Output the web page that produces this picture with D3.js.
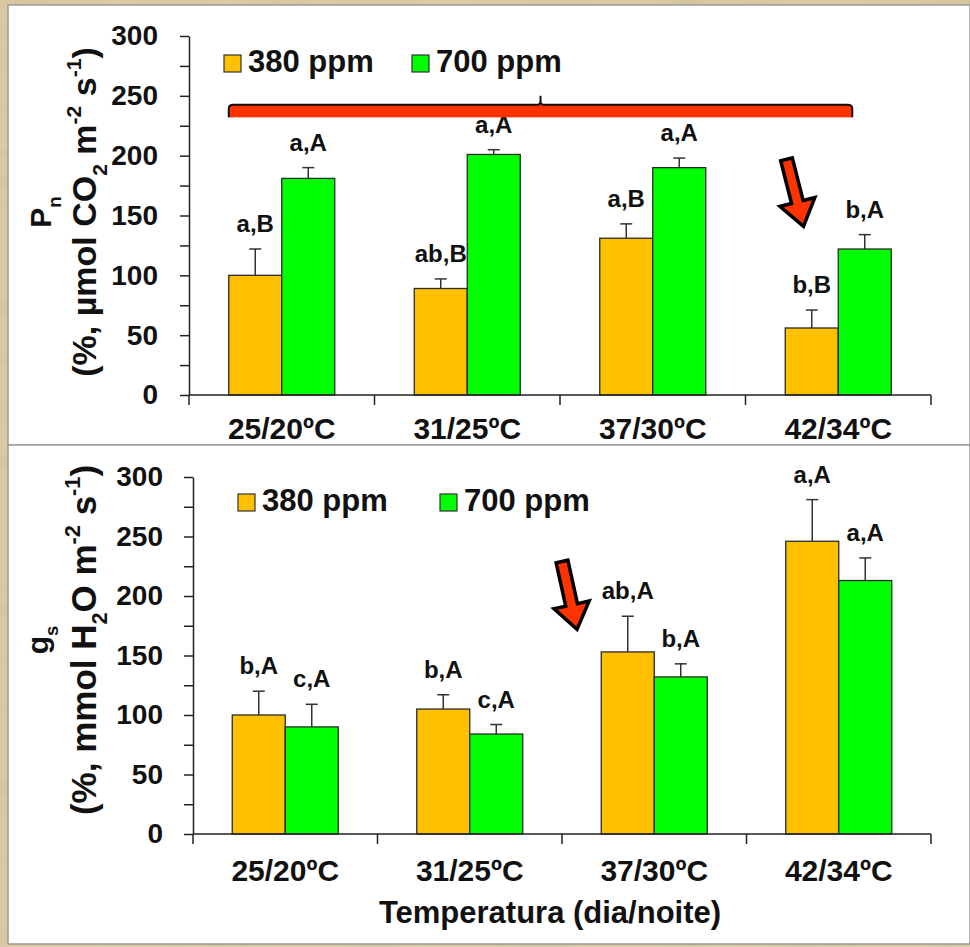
<!DOCTYPE html>
<html>
<head>
<meta charset="utf-8">
<script src="https://cdn.jsdelivr.net/npm/d3@7"></script>
<style>
  body { margin: 0; background: #d8c79d; }
  svg { display: block; }
  text { font-family: "Liberation Sans", Arial, sans-serif; font-weight: bold; fill: #111; }
</style>
</head>
<body>
<div id="chart"></div>
<script>
// categories and series
const categories = ["25/20ºC", "31/25ºC", "37/30ºC", "42/34ºC"];
const series = ["380 ppm", "700 ppm"];
const yTicks = [0, 50, 100, 150, 200, 250, 300];

// Pn (%, µmol CO2 m-2 s-1)
const pnMean380 = [100, 89, 131, 56];
const pnErr380 = [22, 8, 12, 15];
const pnMean700 = [181, 201, 190, 122];
const pnErr700 = [9, 4, 8, 12];
const pnLetters380 = ["a,B", "ab,B", "a,B", "b,B"];
const pnLetters700 = ["a,A", "a,A", "a,A", "b,A"];

// gs (%, mmol H2O m-2 s-1)
const gsMean380 = [100, 105, 153, 246];
const gsErr380 = [20, 12, 30, 35];
const gsMean700 = [90, 84, 132, 213];
const gsErr700 = [19, 8, 11, 19];
const gsLetters380 = ["b,A", "b,A", "ab,A", "a,A"];
const gsLetters700 = ["c,A", "c,A", "b,A", "a,A"];

const colors = { "380 ppm": "#ffc000", "700 ppm": "#00ff00" };
const W = 970, H = 947;
const barW = 53;

const svg = d3.select("#chart").append("svg")
    .attr("width", W)
    .attr("height", H);

// paper-like background
const defs = svg.append("defs");
const paper = defs.append("filter").attr("id", "paper")
    .attr("x", 0).attr("y", 0).attr("width", "100%").attr("height", "100%");
paper.append("feTurbulence")
    .attr("type", "fractalNoise")
    .attr("baseFrequency", "0.012 0.04")
    .attr("numOctaves", 3)
    .attr("seed", 7);
paper.append("feColorMatrix")
    .attr("type", "matrix")
    .attr("values", "0 0 0 0 0.55  0 0 0 0 0.47  0 0 0 0 0.32  1.4 0 0 0 -0.55");

svg.append("rect").attr("width", W).attr("height", H).attr("fill", "#dccba2");
svg.append("rect").attr("width", W).attr("height", H).attr("filter", "url(#paper)").attr("opacity", 0.6);

// white panels
svg.append("rect").attr("x", 8).attr("y", 5).attr("width", W - 8).attr("height", 440)
    .attr("fill", "#fff").attr("stroke", "#9a9a9a").attr("stroke-width", 1.5);
svg.append("rect").attr("x", 8).attr("y", 445).attr("width", W - 8).attr("height", 499)
    .attr("fill", "#fff").attr("stroke", "#9a9a9a").attr("stroke-width", 1.5);

function addRich(textSel, parts) {
    let shift = 0;
    parts.forEach(p => {
        const target = p.s === "sub" ? 0.32 : p.s === "sup" ? -0.45 : 0;
        const t = textSel.append("tspan").text(p.t);
        if (p.s) {
            // em in a tspan is relative to its own (smaller) size
            t.style("font-size", "0.62em").attr("dy", ((target - shift) / 0.62) + "em");
        } else {
            t.attr("dy", (target - shift) + "em");
        }
        shift = target;
    });
}

function drawPanel(p) {
    const g = svg.append("g");

    const x = d3.scaleBand().domain(categories).range([p.x0, p.x1]);
    const bw = x.bandwidth();
    const xs = d3.scaleBand().domain(series).range([bw / 2 - barW, bw / 2 + barW]);
    const y = d3.scaleLinear().domain([0, 300]).range([p.yBase, p.yTop]);

    const rows = categories.flatMap((c, i) => series.map((s, j) => ({
        c, s,
        mean: p.means[j][i],
        err: p.errs[j][i],
        letter: p.letters[j][i]
    })));

    // y axis
    g.append("g")
        .attr("transform", `translate(${p.x0},0)`)
        .call(d3.axisLeft(y).tickValues(d3.range(25, 300, 50)).tickSize(9).tickSizeOuter(0).tickFormat(""))
        .call(a => a.select(".domain").remove())
        .call(a => a.selectAll("line").attr("stroke", "#222").attr("stroke-width", 1.5));
    g.append("g")
        .attr("transform", `translate(${p.x0},0)`)
        .call(d3.axisLeft(y).tickValues(yTicks).tickSize(9).tickSizeOuter(0).tickPadding(p.tickPad))
        .call(a => a.selectAll("text").style("font-size", "28px").attr("fill", "#111"))
        .call(a => a.selectAll("line,path").attr("stroke", "#222").attr("stroke-width", 1.5));

    // error bars
    const eb = g.selectAll(".err").data(rows).join("g");
    eb.append("line")
        .attr("x1", d => x(d.c) + xs(d.s) + barW / 2)
        .attr("x2", d => x(d.c) + xs(d.s) + barW / 2)
        .attr("y1", d => y(d.mean))
        .attr("y2", d => y(d.mean + d.err))
        .attr("stroke", "#333").attr("stroke-width", 1.5);
    eb.append("line")
        .attr("x1", d => x(d.c) + xs(d.s) + barW / 2 - 6)
        .attr("x2", d => x(d.c) + xs(d.s) + barW / 2 + 6)
        .attr("y1", d => y(d.mean + d.err))
        .attr("y2", d => y(d.mean + d.err))
        .attr("stroke", "#333").attr("stroke-width", 1.5);

    // bars
    g.selectAll(".bar").data(rows).join("rect")
        .attr("x", d => x(d.c) + xs(d.s))
        .attr("y", d => y(d.mean))
        .attr("width", xs.bandwidth())
        .attr("height", d => y(0) - y(d.mean))
        .attr("fill", d => colors[d.s])
        .attr("stroke", "#2a2a2a")
        .attr("stroke-width", 1.3);

    // significance letters
    g.selectAll(".lbl").data(rows).join("text")
        .attr("x", d => x(d.c) + xs(d.s) + barW / 2)
        .attr("y", d => y(d.mean + d.err) - 17)
        .attr("text-anchor", "middle")
        .style("font-size", "24px")
        .text(d => d.letter);

    // x axis
    g.append("line")
        .attr("x1", p.x0).attr("x2", p.x1)
        .attr("y1", y(0)).attr("y2", y(0))
        .attr("stroke", "#222").attr("stroke-width", 1.5);
    g.selectAll(".xtick").data(categories.map(c => x(c)).concat([p.x1])).join("line")
        .attr("x1", d => d).attr("x2", d => d)
        .attr("y1", y(0)).attr("y2", y(0) + 10)
        .attr("stroke", "#222").attr("stroke-width", 1.5);
    g.selectAll(".xlab").data(categories).join("text")
        .attr("x", d => x(d) + bw / 2)
        .attr("y", y(0) + p.xLabOff)
        .attr("text-anchor", "middle")
        .style("font-size", "30px")
        .text(d => d);

    // legend
    series.forEach((s, j) => {
        const lx = p.legX[j];
        g.append("rect")
            .attr("x", lx).attr("y", p.legY - 17)
            .attr("width", 17).attr("height", 17)
            .attr("fill", colors[s]).attr("stroke", "#333").attr("stroke-width", 1.2);
        g.append("text")
            .attr("x", lx + 24).attr("y", p.legY)
            .style("font-size", "31px")
            .text(s);
    });

    // y label
    const yl = g.append("text")
        .attr("transform", `translate(${p.yLab1X},${p.yLabY}) rotate(-90)`)
        .attr("text-anchor", "middle")
        .style("font-size", "30px");
    addRich(yl, p.yLab1);
    const yl2 = g.append("text")
        .attr("transform", `translate(${p.yLab2X},${p.yLabY}) rotate(-90)`)
        .attr("text-anchor", "middle")
        .style("font-size", p.yLab2Size);
    addRich(yl2, p.yLab2);

    return { x, y, bw };
}

const topPanel = drawPanel({
    x0: 189, x1: 931, yBase: 395, yTop: 36, tickPad: 22, xLabOff: 44,
    means: [pnMean380, pnMean700], errs: [pnErr380, pnErr700],
    letters: [pnLetters380, pnLetters700],
    legX: [224, 412], legY: 72,
    yLab1X: 51, yLab2X: 96, yLabY: 212, yLab2Size: "34px",
    yLab1: [{ t: "P" }, { t: "n", s: "sub" }],
    yLab2: [{ t: "(%, µmol CO" }, { t: "2", s: "sub" }, { t: " m" }, { t: "-2", s: "sup" }, { t: " s" }, { t: "-1", s: "sup" }, { t: ")" }]
});

const bottomPanel = drawPanel({
    x0: 193, x1: 931, yBase: 834, yTop: 477, tickPad: 21, xLabOff: 47,
    means: [gsMean380, gsMean700], errs: [gsErr380, gsErr700],
    letters: [gsLetters380, gsLetters700],
    legX: [238, 440], legY: 511,
    yLab1X: 48, yLab2X: 96, yLabY: 640, yLab2Size: "35px",
    yLab1: [{ t: "g" }, { t: "s", s: "sub" }],
    yLab2: [{ t: "(%, mmol H" }, { t: "2", s: "sub" }, { t: "O m" }, { t: "-2", s: "sup" }, { t: " s" }, { t: "-1", s: "sup" }, { t: ")" }]
});

svg.append("text")
    .attr("x", 550).attr("y", 923)
    .attr("text-anchor", "middle")
    .style("font-size", "31px")
    .text("Temperatura (dia/noite)");

// bracket over the top chart
const bx0 = topPanel.x(categories[0]) + topPanel.bw / 2 - barW;
const bx1 = topPanel.x(categories[3]) + topPanel.bw / 2 + 14;
const bmid = (bx0 + bx1) / 2;
const byTop = topPanel.y(242.5), byBot = topPanel.y(232);
svg.append("rect")
    .attr("x", bx0).attr("y", byTop)
    .attr("width", bx1 - bx0).attr("height", byBot - byTop)
    .attr("fill", "#ff3300");
svg.append("path")
    .attr("d", `M${bx0},${byBot} V${byTop + 4} Q${bx0},${byTop} ${bx0 + 5},${byTop} H${bmid - 3} Q${bmid},${byTop} ${bmid},${byTop - 4} V${byTop - 9} M${bmid},${byTop - 4} Q${bmid},${byTop} ${bmid + 3},${byTop} H${bx1 - 5} Q${bx1},${byTop} ${bx1},${byTop + 4} V${byBot}`)
    .attr("fill", "none").attr("stroke", "#111").attr("stroke-width", 2);

// arrows
function arrow(x0, y0, x1, y1) {
    const dx = x1 - x0, dy = y1 - y0, len = Math.hypot(dx, dy);
    const ux = dx / len, uy = dy / len, nx = -uy, ny = ux;
    const w = 6, hw = 18, hl = 25;
    const bx = x1 - ux * hl, by = y1 - uy * hl;
    const pts = [
        [x0 + nx * w, y0 + ny * w], [bx + nx * w, by + ny * w], [bx + nx * hw, by + ny * hw],
        [x1, y1],
        [bx - nx * hw, by - ny * hw], [bx - nx * w, by - ny * w], [x0 - nx * w, y0 - ny * w]
    ];
    svg.append("path")
        .attr("d", "M" + pts.map(p => p.join(",")).join("L") + "Z")
        .attr("fill", "#ff3300")
        .attr("stroke", "#000")
        .attr("stroke-width", 3.5)
        .attr("stroke-linejoin", "miter");
}
const t3 = topPanel.x(categories[3]);
arrow(t3 + 41, topPanel.y(197), t3 + 58, topPanel.y(141));
const b2 = bottomPanel.x(categories[2]);
arrow(b2 + 0, bottomPanel.y(229), b2 + 15, bottomPanel.y(172));
</script>
</body>
</html>
